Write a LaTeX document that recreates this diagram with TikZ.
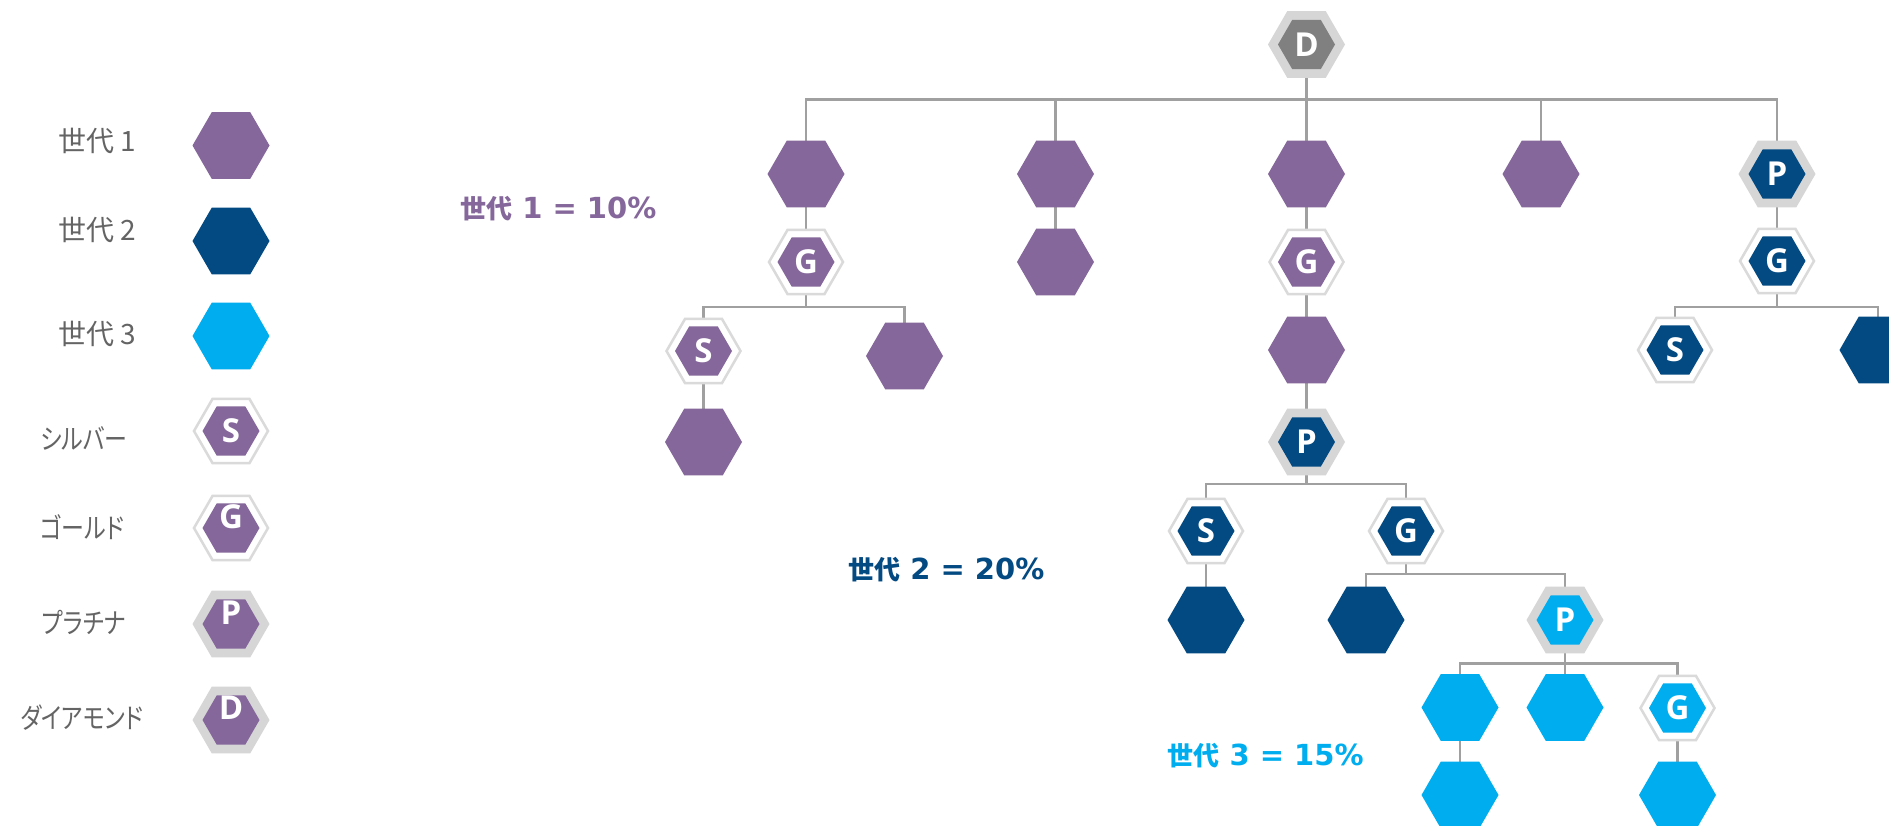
\documentclass[tikz,border=0pt]{standalone}
\usepackage{fontspec}
\usetikzlibrary{shapes.geometric,backgrounds}
\newfontfamily\jpfont[RawFeature=+palt]{Noto Sans CJK JP}
\newfontfamily\letterfont{Open Sans}
\newfontfamily\latfont{DejaVu Sans}
\definecolor{gpurple}{HTML}{85679B}
\definecolor{gdark}{HTML}{044A82}
\definecolor{glight}{HTML}{00AEEF}
\definecolor{dgray}{HTML}{808080}
\definecolor{ringgray}{HTML}{D6D6D6}
\definecolor{ringline}{HTML}{DADADA}
\definecolor{conngray}{HTML}{A0A0A0}
\definecolor{legendgray}{HTML}{646464}
\tikzset{
  hexbase/.style={regular polygon, regular polygon sides=6, inner sep=0pt, outer sep=0pt, draw=none},
  plain/.style={hexbase, minimum size=77pt, fill=#1},
  ringfill/.style={hexbase, minimum size=77pt, fill=ringgray},
  ringthin/.style={hexbase, minimum size=74pt, draw=ringline, line width=2.5pt, fill=white},
  core/.style={hexbase, minimum size=57pt, fill=#1, text=white, font=\letterfont\bfseries\fontsize{33}{33}\selectfont},
  lett/.style={inner sep=0pt, text=white, font=\letterfont\bfseries\fontsize{33}{33}\selectfont},
  conn/.style={draw=conngray, line width=2.6pt},
  legtext/.style={inner sep=0pt, text=legendgray, font=\jpfont\fontsize{28}{28}\selectfont},
  kanatext/.style={inner sep=0pt, text=legendgray, font=\jpfont\fontsize{28}{28}\selectfont},
  gentext/.style={inner sep=0pt, text=#1, font=\latfont\bfseries\fontsize{29}{29}\selectfont}
}
\newcommand\genkanji{{\jpfont\bfseries\fontsize{26}{26}\selectfont 世代}}
\newcommand\kana[1]{\scalebox{0.82}[1]{#1}}
% badge with thin ring (silver / gold)
\newcommand\ringT[4]{\node[ringthin] (#1) at (#2) {};\node[core=#3] (#1i) at (#2) {#4};}
% badge with filled ring (platinum / diamond)
\newcommand\ringF[4]{\node[ringfill] (#1) at (#2) {};\node[core=#3] (#1i) at (#2) {#4};}
\begin{document}
\begin{tikzpicture}[x=1pt,y=-1pt]
\useasboundingbox (0,0) rectangle (1889,825);

% ---------------- legend ----------------
\node[legtext] (t1) at (97.5,140.5) {世代 1};
\node[legtext] (t2) at (97.5,230) {世代 2};
\node[legtext] (t3) at (97.5,333.5) {世代 3};
\node[kanatext] (t4) at (84,438) {\kana{シルバー}};
\node[kanatext] (t5) at (82,527) {\kana{ゴールド}};
\node[kanatext] (t6) at (84,622) {\kana{プラチナ}};
\node[kanatext] (t7) at (82,718) {\kana{ダイアモンド}};

\node[plain=gpurple] (L1) at (231,145.5) {};
\node[plain=gdark] (L2) at (231,241) {};
\node[plain=glight] (L3) at (231,336) {};
\ringT{L4}{231,431}{gpurple}{S}
\ringT{L5}{231,528}{gpurple}{}
\node[lett] (L5t) at (231,517) {G};
\ringF{L6}{231,624}{gpurple}{}
\node[lett] (L6t) at (231,613) {P};
\ringF{L7}{231,720}{gpurple}{}
\node[lett] (L7t) at (231,708) {D};

% ---------------- generation labels ----------------
\node[gentext=gpurple] (g1lab) at (558.3,209) {\genkanji\ 1 = 10\%};
\node[gentext=gdark] (g2lab) at (946.3,570) {\genkanji\ 2 = 20\%};
\node[gentext=glight] (g3lab) at (1265.5,756) {\genkanji\ 3 = 15\%};

% ---------------- tree ----------------
\ringF{D}{1306.5,44.5}{dgray}{D}

\node[plain=gpurple] (a1) at (806,174) {};
\node[plain=gpurple] (a2) at (1055.5,174) {};
\node[plain=gpurple] (a3) at (1306.5,174) {};
\node[plain=gpurple] (a4) at (1541,174) {};
\ringF{a5}{1777,174}{gdark}{P}

\ringT{b1}{806,262}{gpurple}{G}
\node[plain=gpurple] (b2) at (1055.5,262) {};
\ringT{b3}{1306.5,262}{gpurple}{G}
\ringT{b5}{1777,261}{gdark}{G}

\ringT{c1}{703.5,351}{gpurple}{S}
\node[plain=gpurple] (c2) at (904.5,356) {};
\node[plain=gpurple] (d1) at (703.5,442) {};

\node[plain=gpurple] (c3) at (1306.5,350) {};
\ringF{d3}{1306.5,442}{gdark}{P}

\ringT{e1}{1206,531}{gdark}{S}
\ringT{e2}{1406,531}{gdark}{G}
\node[plain=gdark] (f1) at (1206,620) {};
\node[plain=gdark] (f2) at (1366,620) {};
\ringF{f3}{1565,620}{glight}{P}

\node[plain=glight] (g1) at (1460,707.5) {};
\node[plain=glight] (g2) at (1565,707.5) {};
\ringT{g3}{1677.5,708}{glight}{G}
\node[plain=glight] (h1) at (1460,795) {};
\node[plain=glight] (h3) at (1677.5,795) {};

\ringT{c5}{1675,350}{gdark}{S}
\node[plain=gdark] (c6) at (1878,350) {};

% bus coordinates
\coordinate (bus0) at (0,99.5);
\coordinate (bus1) at (0,307);
\coordinate (bus3) at (0,484);
\coordinate (bus4) at (0,574);
\coordinate (bus5) at (0,663.5);
\coordinate (bus6) at (0,307);

\begin{scope}[on background layer]
  \fill[white] (0,0) rectangle (1889,825);
  \foreach \ch in {a1,a2,a3,a4,a5}{\draw[conn] (D) -- (D |- bus0) -| (\ch);}
  \draw[conn] (a1) -- (b1);
  \draw[conn] (a2) -- (b2);
  \draw[conn] (a3) -- (b3);
  \draw[conn] (a5) -- (b5);
  \foreach \ch in {c1,c2}{\draw[conn] (b1) -- (b1 |- bus1) -| (\ch);}
  \draw[conn] (c1) -- (d1);
  \draw[conn] (b3) -- (c3);
  \draw[conn] (c3) -- (d3);
  \foreach \ch in {e1,e2}{\draw[conn] (d3) -- (d3 |- bus3) -| (\ch);}
  \draw[conn] (e1) -- (f1);
  \foreach \ch in {f2,f3}{\draw[conn] (e2) -- (e2 |- bus4) -| (\ch);}
  \foreach \ch in {g1,g2,g3}{\draw[conn] (f3) -- (f3 |- bus5) -| (\ch);}
  \draw[conn] (g1) -- (h1);
  \draw[conn] (g3) -- (h3);
  \foreach \ch in {c5,c6}{\draw[conn] (b5) -- (b5 |- bus6) -| (\ch);}
\end{scope}
\end{tikzpicture}
\end{document}
